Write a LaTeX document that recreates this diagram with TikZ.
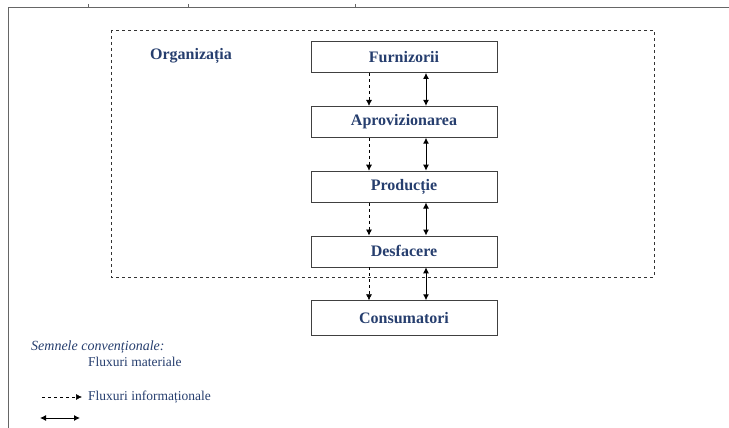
\documentclass[tikz,border=0pt]{standalone}
\usepackage{fontspec}
\setmainfont{Liberation Serif}
\usepackage{tikz}
\usetikzlibrary{positioning,arrows.meta}

\definecolor{txtblue}{RGB}{38,62,110}

\tikzset{
	etapa/.style={draw=black!75, line width=0.8pt, minimum width=186pt, minimum height=31pt,
		inner sep=0pt, font=\bfseries\fontsize{16}{18}\selectfont, text=txtblue},
	info/.style={dashed, line width=0.6pt, -{Latex[length=6pt,width=6pt]}},
	mater/.style={line width=1pt, {Latex[length=6pt,width=6pt]}-{Latex[length=6pt,width=6pt]}},
	legtext/.style={font=\fontsize{13.5}{15}\selectfont, text=txtblue, anchor=west, inner sep=0pt},
}

\begin{document}
\begin{tikzpicture}[x=1pt,y=-1pt,node distance=33pt]
		\useasboundingbox (0,0) rectangle (729,428);
		% marginea paginii
		\draw[black!60, line width=1pt] (729,8) -- (8,8) -- (8,428);
		\foreach \tx in {88,188,355}
			\draw[black!60, line width=0.8pt] (\tx,4) -- (\tx,8);
		% organizatia
		\draw[dashed, line width=0.6pt, black!80] (111,30) rectangle (654,277);
		\node (org) [text=txtblue, font=\bfseries\fontsize{16}{18}\selectfont] at (191,56) {Organizația};
		\node (furn) [etapa] at (404,57) {Furnizorii};
		\node (aprov) [etapa, below=of furn] {Aprovizionarea};
		\node (prod) [etapa, below=of aprov] {Producție};
		\node (desf) [etapa, below=of prod] {Desfacere};
		\node (cons) [etapa, below=of desf, minimum height=35pt] {Consumatori};
		\foreach \a/\b in {furn/aprov, aprov/prod, prod/desf, desf/cons} {
			\draw[info] ([xshift=-35pt]\a.south) -- ([xshift=-35pt]\b.north);
			\draw[mater] ([xshift=22pt]\a.south) -- ([xshift=22pt]\b.north);
		}
		% legenda
		\node (semne) [legtext, font=\itshape\fontsize{14}{15}\selectfont] at (31,347) {Semnele convenționale:};
		\node (fmat) [legtext] at (88,362) {Fluxuri materiale};
		\node (finf) [legtext] at (88,397) {Fluxuri informaționale};
		\coordinate (li1) at (42,397);
		\coordinate (li2) at (82,397);
		\coordinate (lm1) at (40,418);
		\coordinate (lm2) at (80,418);
		\draw[info] (li1) -- (li2);
		\draw[mater] (lm1) -- (lm2);
	\end{tikzpicture}
\end{document}
